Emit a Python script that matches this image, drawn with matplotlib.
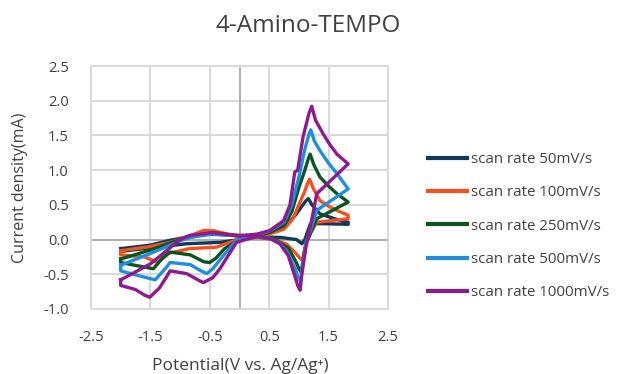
import matplotlib
matplotlib.use("Agg")
import matplotlib.pyplot as plt

plt.rcParams['font.family'] = ['Open Sans', 'DejaVu Sans']

title = "4-Amino-TEMPO"
xlabel = "Potential(V vs. Ag/Ag\u207a)"
ylabel = "Current density(mA)"
labels = ["scan rate 50mV/s", "scan rate 100mV/s", "scan rate 250mV/s",
          "scan rate 500mV/s", "scan rate 1000mV/s"]
colors = ["#12395c", "#f4511e", "#0b5320", "#1e8fdc", "#8e1a8e"]

xticks = [-2.5, -1.5, -0.5, 0.5, 1.5, 2.5]
yticks = [-1.0, -0.5, 0.0, 0.5, 1.0, 1.5, 2.0, 2.5]

# scan rate 50 mV/s
x50 = [-2.0, -1.5, -1.17, -0.61, 0.0, 0.3, 0.57, 0.8, 0.95, 1.05, 1.12, 1.16, 1.22, 1.355, 1.64, 1.83,
       1.83, 1.33, 1.19, 1.1, 1.05, 0.96, 0.7, 0.3, 0.0, -0.33, -0.89, -1.5, -2.0, -2.0]
y50 = [-0.13, -0.08, -0.01, 0.08, 0.06, 0.06, 0.12, 0.22, 0.36, 0.48, 0.56, 0.59, 0.5, 0.37, 0.29, 0.25,
       0.22, 0.23, 0.22, 0.0, -0.06, 0.0, 0.03, 0.04, 0.0, -0.04, -0.06, -0.12, -0.17, -0.13]

# scan rate 100 mV/s
x100 = [-2.0, -1.5, -1.17, -0.84, -0.61, -0.45, -0.2, 0.0, 0.3, 0.5, 0.75, 0.9, 1.0, 1.1, 1.15, 1.18, 1.24,
        1.355, 1.5, 1.64, 1.83, 1.83, 1.3, 1.2, 1.12, 1.08, 1.06, 1.02, 0.95, 0.8, 0.6, 0.3, 0.0, -0.39, -0.84,
        -1.2, -1.37, -1.6, -2.0, -2.0]
y100 = [-0.16, -0.1, -0.04, 0.05, 0.13, 0.13, 0.08, 0.06, 0.06, 0.08, 0.15, 0.3, 0.5, 0.7, 0.82, 0.87, 0.74,
        0.56, 0.48, 0.42, 0.35, 0.3, 0.25, 0.1, -0.05, -0.2, -0.3, -0.27, -0.2, -0.07, 0.0, 0.03, 0.01, -0.11, -0.13,
        -0.2, -0.33, -0.25, -0.22, -0.16]

# scan rate 250 mV/s
x250 = [-2.0, -1.5, -1.0, -0.84, -0.45, 0.0, 0.3, 0.5, 0.75, 0.88, 1.0, 1.1, 1.16, 1.19, 1.25,
        1.355, 1.5, 1.64, 1.83, 1.3, 1.2, 1.12, 1.07, 1.04, 1.0, 0.95, 0.82, 0.6, 0.3, 0.0, -0.25, -0.4, -0.5,
        -0.6, -0.83, -1.17, -1.31, -1.45, -1.7, -2.0, -2.0]
y250 = [-0.28, -0.15, 0.0, 0.03, 0.1, 0.05, 0.06, 0.1, 0.2, 0.4, 0.75, 1.0, 1.17, 1.23, 1.08,
        0.9, 0.77, 0.66, 0.54, 0.3, 0.1, -0.05, -0.3, -0.47, -0.42, -0.32, -0.12, 0.0, 0.04, 0.0, -0.13, -0.27, -0.33,
        -0.32, -0.22, -0.18, -0.28, -0.42, -0.38, -0.33, -0.28]

# scan rate 500 mV/s
x500 = [-2.0, -1.5, -1.0, -0.84, -0.45, 0.0, 0.3, 0.5, 0.75, 0.88, 1.0, 1.1, 1.17, 1.2, 1.26,
        1.355, 1.5, 1.64, 1.83, 1.3, 1.2, 1.13, 1.06, 1.03, 0.99, 0.95, 0.82, 0.68, 0.5, 0.3, -0.05, -0.27,
        -0.45, -0.55, -0.65, -0.83, -1.17, -1.23, -1.42, -1.7, -2.0, -2.0]
y500 = [-0.37, -0.2, -0.02, 0.03, 0.08, 0.05, 0.07, 0.12, 0.25, 0.5, 0.9, 1.3, 1.52, 1.58, 1.42,
        1.28, 1.1, 0.95, 0.73, 0.42, 0.15, -0.01, -0.35, -0.61, -0.55, -0.45, -0.2, -0.05, 0.02, 0.04, -0.01, -0.23,
        -0.42, -0.49, -0.45, -0.36, -0.33, -0.4, -0.58, -0.52, -0.45, -0.37]

# scan rate 1000 mV/s
x1000 = [-2.0, -1.5, -1.0, -0.84, -0.45, 0.0, 0.3, 0.51, 0.74, 0.85, 0.93, 0.98, 1.07, 1.17, 1.215, 1.28,
         1.41, 1.52, 1.64, 1.83, 1.3, 1.22, 1.12, 1.05, 1.02, 0.98, 0.93, 0.82, 0.68, 0.5, 0.3, -0.05, -0.33,
         -0.45, -0.61, -0.7, -0.89, -1.17, -1.23, -1.35, -1.51, -1.6, -1.75, -2.0, -2.0]
y1000 = [-0.58, -0.35, 0.0, 0.06, 0.1, 0.05, 0.08, 0.13, 0.27, 0.5, 0.97, 1.0, 1.48, 1.82, 1.92, 1.72,
         1.52, 1.37, 1.23, 1.09, 0.66, 0.3, -0.1, -0.5, -0.73, -0.66, -0.52, -0.23, -0.06, 0.02, 0.05, -0.04, -0.42,
         -0.55, -0.62, -0.58, -0.49, -0.45, -0.54, -0.7, -0.83, -0.8, -0.72, -0.66, -0.58]

series_x = [x50, x100, x250, x500, x1000]
series_y = [y50, y100, y250, y500, y1000]

fig = plt.figure(figsize=(6.17, 3.74), dpi=100)
ax = fig.add_axes([91/617, 1 - 309/374, (388-91)/617, (309-66)/374])

grid_c = "#d9d9d9"
ax.set_xlim(-2.5, 2.5)
ax.set_ylim(-1.0, 2.5)
ax.set_xticks(xticks)
ax.set_yticks(yticks)
ax.set_xticklabels([f"{v:.1f}" for v in xticks])
ax.set_yticklabels([f"{v:.1f}" for v in yticks])
ax.grid(True, color=grid_c, linewidth=1.4)
ax.set_axisbelow(True)
for s in ax.spines.values():
    s.set_color(grid_c)
    s.set_linewidth(1.4)
ax.axhline(0, color="#b0b0b0", linewidth=1.4, zorder=1)
ax.axvline(0, color="#b0b0b0", linewidth=1.4, zorder=1)
ax.tick_params(length=0, labelsize=10.5, colors="#404040")
ax.tick_params(axis='y', pad=16)
ax.tick_params(axis='x', pad=15)

for xs, ys, c, lab in zip(series_x, series_y, colors, labels):
    ax.plot(xs, ys, color=c, linewidth=2.4, label=lab, solid_joinstyle='round', zorder=3)

fig.text(308/617, 1 - 26/374, title, ha="center", va="center", fontsize=17.5, color="#404040")
fig.text(240/617, 1 - 366/374, xlabel, ha="center", va="center", fontsize=12.5, color="#404040")
fig.text(20/617, 1 - 188/374, ylabel, ha="center", va="center", rotation=90, fontsize=11.5, color="#404040")

leg = fig.legend(loc="upper left", bbox_to_anchor=(428/617, 1 - 152/374), frameon=False,
                 fontsize=10.8, handlelength=2.6, handletextpad=0.25, labelspacing=1.22,
                 borderaxespad=0, borderpad=0)
for t in leg.get_texts():
    t.set_color("#404040")
for l in leg.get_lines():
    l.set_linewidth(3.0)

fig.savefig("out.png", dpi=100)
